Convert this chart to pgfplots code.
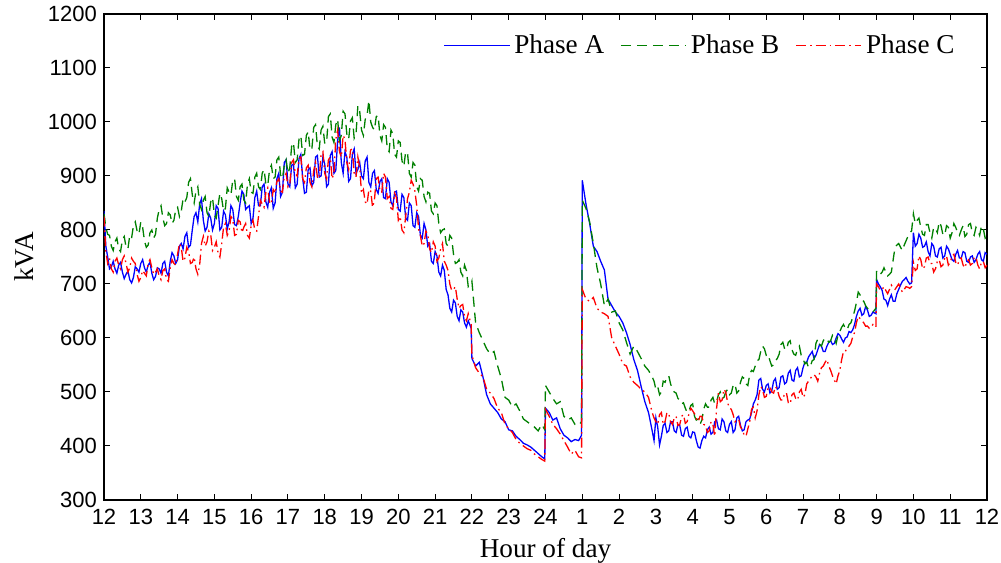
\documentclass[border=0pt]{standalone}
\usepackage{pgfplots}
\pgfplotsset{compat=1.18}
\usepackage{pgfplotstable}
\usepackage{fontspec}
\setmainfont{Liberation Serif}
\newfontfamily\sansf{Liberation Sans}
\usetikzlibrary{calc}

% hour after noon, Phase A, Phase B, Phase C (kVA)
\pgfplotstableread{
h A B C
0.0 835 830 825
0.05 770 805 760
0.1 750 792 738
0.15 728 790 748
0.2 732 770 728
0.25 742 762 722
0.3 728 778 742
0.35 720 785 748
0.4 735 765 735
0.45 740 760 728
0.5 722 782 745
0.55 710 788 752
0.6 718 768 738
0.65 724 765 722
0.7 708 790 730
0.75 702 785 748
0.8 712 808 742
0.85 732 815 738
0.9 728 798 718
0.95 722 792 705
1.0 738 815 712
1.05 745 805 725
1.1 730 780 720
1.15 722 768 715
1.2 735 772 738
1.25 740 795 745
1.3 720 800 730
1.35 708 785 718
1.4 714 792 722
1.45 730 822 728
1.5 728 838 715
1.55 720 845 708
1.6 738 822 725
1.65 742 808 728
1.7 722 812 708
1.75 715 832 705
1.8 742 828 730
1.85 758 812 745
1.9 752 818 738
1.95 738 838 735
2.0 745 842 755
2.05 770 825 775
2.1 775 835 768
2.15 765 858 742
2.2 788 852 748
2.25 795 860 768
2.3 768 888 760
2.35 772 895 738
2.4 800 865 740
2.45 825 850 750
2.5 832 872 728
2.55 815 880 718
2.6 848 848 735
2.65 858 838 775
2.7 818 855 788
2.75 798 862 770
2.8 805 832 778
2.85 830 825 798
2.9 822 852 792
2.95 800 860 762
3.0 812 828 768
3.05 845 822 778
3.1 840 845 758
3.15 800 868 750
3.2 805 858 775
3.25 835 835 805
3.3 828 840 812
3.35 802 878 790
3.4 815 870 798
3.45 845 865 825
3.5 838 892 820
3.55 810 895 790
3.6 808 862 792
3.65 825 855 818
3.7 850 880 815
3.75 872 885 795
3.8 866 856 805
3.85 838 850 812
3.9 842 885 790
3.95 845 895 785
4.0 812 870 808
4.05 822 868 818
4.1 860 898 800
4.15 872 905 798
4.2 845 880 825
4.25 845 875 855
4.3 880 905 848
4.35 885 912 842
4.4 852 885 870
4.45 842 882 878
4.5 870 912 852
4.55 878 920 848
4.6 840 895 875
4.65 850 898 868
4.7 895 930 890
4.75 905 935 895
4.8 862 902 872
4.85 870 895 870
4.9 925 920 898
4.95 930 930 905
5.0 885 905 880
5.05 880 915 885
5.1 920 955 925
5.15 922 962 930
5.2 878 925 905
5.25 885 930 900
5.3 932 968 932
5.35 940 975 935
5.4 896 938 895
5.45 868 940 888
5.5 870 975 915
5.55 912 982 920
5.6 915 948 888
5.65 882 950 880
5.7 888 990 910
5.75 935 995 925
5.8 938 955 898
5.85 898 950 895
5.9 900 985 940
5.95 935 992 945
6.0 922 960 905
6.05 880 962 895
6.1 885 1010 930
6.15 938 1015 935
6.2 945 972 895
6.25 905 962 905
6.3 910 995 968
6.35 965 1005 985
6.4 990 965 945
6.45 925 975 935
6.5 905 1020 975
6.55 945 1015 968
6.6 935 978 925
6.65 890 968 912
6.7 895 1002 948
6.75 940 1008 950
6.8 950 970 905
6.85 905 978 898
6.9 912 1030 935
6.95 925 1020 915
7.0 900 985 868
7.05 895 975 875
7.1 928 1005 852
7.15 935 1012 848
7.2 888 1040 875
7.25 880 1000 872
7.3 905 990 842
7.35 910 985 855
7.4 875 1010 895
7.45 868 1012 898
7.5 890 975 872
7.55 895 965 870
7.6 860 995 905
7.65 858 990 898
7.7 895 950 858
7.75 888 945 862
7.8 852 985 840
7.85 845 978 838
7.9 870 940 868
7.95 872 935 860
8.0 838 965 818
8.05 835 962 825
8.1 866 928 800
8.15 860 918 795
8.2 822 945 825
8.25 818 942 858
8.3 850 905 870
8.35 845 898 892
8.4 808 925 885
8.45 805 920 872
8.5 832 880 845
8.55 825 872 802
8.6 790 895 790
8.65 785 892 770
8.7 812 862 775
8.75 800 852 798
8.8 770 870 792
8.85 775 868 765
8.9 742 835 758
8.95 738 830 778
9.0 760 850 770
9.05 752 845 742
9.1 722 812 748
9.15 715 795 765
9.2 735 800 775
9.25 725 802 742
9.3 690 775 735
9.35 680 770 725
9.4 655 790 700
9.45 648 785 688
9.5 670 755 690
9.55 665 738 695
9.6 640 740 672
9.65 632 745 655
9.7 652 722 660
9.75 648 715 662
9.8 628 735 640
9.85 620 725 632
9.9 632 695 645
9.98 618 700 625
10.0 562 705 568
10.1 548 628 545
10.2 555 610 535
10.3 528 595 528
10.4 495 580 505
10.5 478 570 498
10.6 470 575 488
10.7 462 548 470
10.8 450 525 462
10.9 445 490 440
11.0 430 485 432
11.1 428 472 425
11.2 418 478 412
11.3 412 465 405
11.4 405 450 400
11.5 402 445 395
11.6 398 440 392
11.7 392 435 385
11.8 386 428 380
11.9 380 440 375
11.98 376 430 372
12.0 470 512 468
12.1 462 500 455
12.2 448 488 440
12.3 452 478 432
12.4 432 482 422
12.5 420 455 410
12.6 415 448 398
12.7 408 452 385
12.8 412 440 392
12.9 410 438 380
12.98 420 445 378
13.0 892 855 690
13.1 848 840 672
13.2 812 815 668
13.3 770 775 675
13.4 760 730 655
13.5 742 700 648
13.6 726 660 645
13.7 672 672 640
13.8 660 648 600
13.9 648 650 585
14.0 640 628 570
14.1 628 615 552
14.2 610 592 548
14.3 588 570 528
14.4 560 585 518
14.5 540 575 512
14.6 510 562 505
14.7 482 548 500
14.8 462 540 490
14.9 428 528 462
14.95 410 520 452
15.0 452 505 445
15.05 435 510 440
15.1 402 495 458
15.15 418 500 462
15.2 438 520 440
15.25 442 518 445
15.3 425 528 462
15.35 428 530 460
15.4 445 515 445
15.45 445 505 440
15.5 428 500 452
15.55 425 498 455
15.6 440 488 438
15.65 438 485 440
15.7 420 478 455
15.75 418 480 458
15.8 432 470 442
15.85 435 462 445
15.9 418 465 460
15.95 415 475 470
16.0 426 478 465
16.05 425 455 460
16.1 410 448 450
16.15 398 450 445
16.2 396 440 455
16.25 410 448 455
16.3 418 468 440
16.35 415 478 438
16.4 430 472 425
16.45 435 472 428
16.5 422 485 445
16.55 425 490 440
16.6 445 478 418
16.65 448 482 470
16.7 432 495 498
16.75 430 500 482
16.8 450 488 485
16.85 445 490 505
16.9 428 500 500
16.95 425 505 480
17.0 440 495 470
17.05 445 498 468
17.1 425 512 458
17.15 430 515 445
17.2 452 498 448
17.25 455 502 450
17.3 438 518 435
17.35 428 528 430
17.4 430 525 420
17.45 445 515 418
17.5 448 512 432
17.55 450 532 445
17.6 462 540 468
17.65 478 538 472
17.7 485 548 452
17.75 495 558 465
17.8 522 560 495
17.85 525 575 510
17.9 505 585 505
17.95 500 580 490
18.0 512 568 492
18.05 515 570 508
18.1 498 558 510
18.15 502 548 500
18.2 520 550 498
18.25 525 558 510
18.3 505 562 505
18.35 508 570 492
18.4 528 588 485
18.45 530 592 485
18.5 515 580 498
18.55 518 578 498
18.6 535 592 480
18.65 540 595 478
18.7 522 578 495
18.75 520 570 498
18.8 540 568 488
18.85 545 580 485
18.9 528 585 500
18.95 530 568 505
19.0 545 562 490
19.05 555 552 495
19.1 555 555 515
19.15 565 545 520
19.2 570 548 525
19.25 575 558 530
19.3 562 560 532
19.35 568 590 528
19.4 578 598 520
19.45 588 588 535
19.5 585 585 545
19.55 575 595 548
19.6 575 600 555
19.65 585 598 560
19.7 592 592 548
19.75 595 595 540
19.8 588 605 530
19.85 590 600 522
19.9 600 590 515
19.95 608 605 530
20.0 605 612 540
20.05 598 620 560
20.1 592 625 575
20.15 600 618 575
20.2 602 615 582
20.25 612 625 585
20.3 610 628 590
20.35 615 638 602
20.4 625 650 610
20.45 640 665 628
20.5 650 685 640
20.55 655 680 636
20.6 642 670 632
20.65 645 668 628
20.7 658 660 622
20.75 652 655 622
20.8 640 652 618
20.85 642 650 620
20.9 648 648 625
20.98 645 655 620
21.0 708 725 700
21.05 700 722 695
21.1 695 718 688
21.15 688 722 690
21.2 672 730 695
21.25 670 722 688
21.3 660 715 682
21.35 672 718 690
21.4 680 722 698
21.45 668 745 692
21.5 668 768 690
21.55 682 772 695
21.6 690 775 700
21.65 698 768 692
21.7 705 762 685
21.75 708 772 690
21.8 712 780 695
21.85 705 788 694
21.9 700 795 692
21.95 702 798 695
22.0 795 830 740
22.05 770 812 725
22.1 775 818 728
22.15 792 822 752
22.2 785 805 745
22.25 768 792 728
22.3 770 790 732
22.35 778 810 748
22.4 760 810 750
22.45 752 795 738
22.5 775 785 738
22.55 770 805 722
22.6 752 802 728
22.65 750 795 742
22.7 765 815 745
22.75 768 808 732
22.8 748 792 735
22.85 752 790 748
22.9 770 808 752
22.95 765 805 735
23.0 755 785 740
23.05 745 795 752
23.1 742 812 755
23.15 755 805 740
23.2 762 795 735
23.25 748 790 745
23.3 748 800 748
23.35 760 808 735
23.4 758 788 730
23.45 742 792 742
23.5 740 810 745
23.55 750 812 735
23.6 752 795 738
23.65 740 790 748
23.7 745 805 750
23.75 755 800 735
23.8 760 790 728
23.85 745 808 740
23.9 742 802 742
23.95 758 785 730
24.0 755 790 735
}\loaddata

\definecolor{phA}{RGB}{0,0,255}
\definecolor{phB}{RGB}{0,128,0}
\definecolor{phC}{RGB}{255,0,0}

\begin{document}
\begin{tikzpicture}
\begin{axis}[
    name=ax,
    scale only axis,
    width=441.5pt, height=243pt,
    xmin=0, xmax=24, ymin=300, ymax=1200,
    xtick={0,1,...,24},
    xticklabels={12,13,14,15,16,17,18,19,20,21,22,23,24,1,2,3,4,5,6,7,8,9,10,11,12},
    ytick={300,400,...,1200},
    /pgf/number format/1000 sep={},
    tick align=inside,
    tick pos=both,
    major tick length=3pt,
    axis line style={line width=0.8pt},
    every tick/.style={black, line width=0.5pt},
    /pgf/number format/assume math mode=true,
    ticklabel style={font=\sansf\fontsize{11}{13}\selectfont},
    xticklabel style={yshift=-1pt},
    xlabel style={font=\fontsize{13.6}{15}\selectfont},
    ylabel style={font=\fontsize{13.6}{15}\selectfont},
    xlabel={Hour of day},
    ylabel={kVA},
    legend columns=3,
    legend style={draw=none, fill=none, at={(0.975,0.975)}, anchor=north east,
      font=\fontsize{13.6}{15}\selectfont,
      /tikz/every even column/.append style={column sep=6pt}},
    every axis plot/.append style={line width=0.65pt},
  ]
  \addplot[phA, solid,
    legend image code/.code={\pgfsetstrokecolor{phA}\draw[draw=phA, solid, line width=0.65pt] (0cm,0cm) -- (1.15cm,0cm);}]
    table[x=h, y=A] {\loaddata};
  \addplot[phB, dash pattern=on 5pt off 3pt,
    legend image code/.code={\pgfsetstrokecolor{phB}\draw[draw=phB, dash pattern=on 5pt off 3pt, line width=0.65pt] (0cm,0cm) -- (1.15cm,0cm);}]
    table[x=h, y=B] {\loaddata};
  \addplot[phC, dash pattern=on 5pt off 2pt on 0.8pt off 2pt,
    legend image code/.code={\pgfsetstrokecolor{phC}\draw[draw=phC, dash pattern=on 5pt off 2pt on 0.8pt off 2pt, line width=0.65pt] (0cm,0cm) -- (1.15cm,0cm);}]
    table[x=h, y=C] {\loaddata};
  \legend{Phase A, Phase B, Phase C}
\end{axis}
\pgfresetboundingbox
\path[use as bounding box] ($(ax.south west)+(-52pt,-31.5pt)$) rectangle ($(ax.north east)+(7pt,7pt)$);
\end{tikzpicture}
\end{document}
